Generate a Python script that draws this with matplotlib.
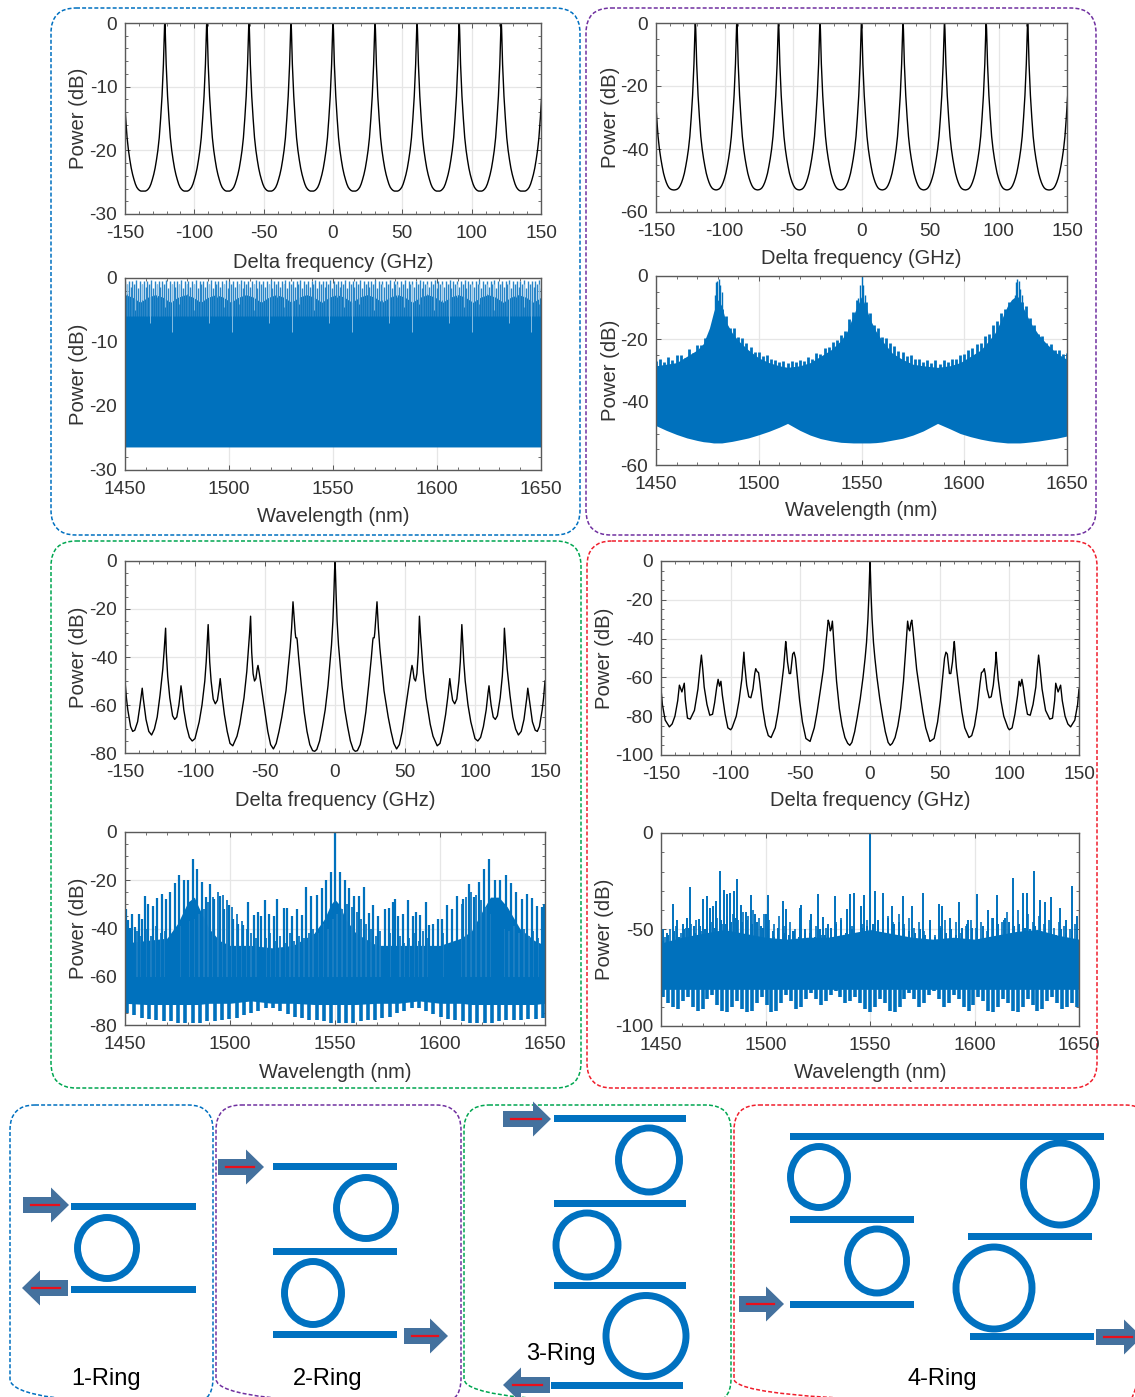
#-*- coding: utf-8 -*-
"""
Ring filter responses, 1 to 4 rings, with the ring schematics below
"""
import numpy as np
import matplotlib
matplotlib.use('Agg')
import matplotlib.pyplot as plt
from matplotlib.patches import FancyBboxPatch, Ellipse, Rectangle, Polygon
from matplotlib.ticker import MultipleLocator

plt.rcParams['font.family'] = ['Liberation Sans', 'DejaVu Sans']
plt.rcParams['axes.unicode_minus'] = False

BLUE = '#0071BD'
TEXT = '#333333'
W, H = 1135, 1397

# periodic responses, one side of a resonance, repeated at the read peaks
comb_peaks = [-152.5, -121.3, -91.0, -60.6, -30.3, 0, 30.3, 60.6, 91.0, 121.3, 152.5]
comb_offset = [0, 0.15, 0.3, 0.6, 1.0, 1.5, 2.0, 3.0, 4.0, 5.0, 6.0, 7.0, 8.0, 9.0, 10.0, 11.0, 12.0, 13.0, 14.0, 15.15]
ring1_level = [0, -0.3, -1, -3.5, -6.5, -9, -11.5, -15, -18, -20, -21.5, -22.8, -23.8, -24.6, -25.3, -25.8, -26.1, -26.3, -26.4, -26.4]
ring2_level = [0, -0.6, -2, -7, -13, -18, -23, -30, -36, -40, -43, -45.5, -47.7, -49.3, -50.6, -51.6, -52.3, -52.7, -52.9, -53]

# 3-ring and 4-ring, positive side, the response is mirrored around 0
ring3_f = [0, 0.3, 0.8, 1.5, 2.5, 3.4, 5, 7, 9, 11, 13, 14.5, 16, 18, 20, 22, 24, 26, 27, 27.3,
           28, 28.4, 29.4, 30, 31, 32, 33, 35, 38, 40, 42, 44, 46, 48, 50, 52, 54, 55, 55.6, 56.5,
           57.5, 58.5, 59.5, 60.3, 61, 62, 63, 65, 68, 70, 73, 75, 77, 79, 80.5, 82, 83, 84, 85.5, 87,
           88.5, 89.5, 90.6, 91.3, 92, 93, 95, 97, 100, 102, 104, 106, 108, 109.3, 110, 110.7, 111.5, 113, 114.5, 116,
           118, 119.5, 120.5, 121, 122, 123, 125, 127, 129, 131, 133, 135, 137, 137.7, 138.4, 139.5, 141, 143, 144.5, 146,
           148, 149, 150]
ring3_p = [0, -4, -14, -25, -35, -41, -52, -62, -69, -75, -78.5, -79.3, -79, -76.5, -71, -63, -52, -40, -33, -32,
           -32, -30, -22, -17, -28, -36, -42, -54, -65, -71, -76, -78.3, -76.5, -71, -63, -55, -47, -43.5, -45, -49,
           -50, -47, -38, -23, -30, -38, -46, -57, -68, -73, -77, -76, -71, -64, -57, -49, -54, -58, -59.5, -57.5,
           -50, -42, -26.5, -34, -42, -50, -60, -67, -74, -75, -73.5, -69, -62, -55, -52, -56, -60, -65, -66, -64.5,
           -57, -48, -38, -28, -37, -45, -56, -65, -70, -72.5, -71, -66, -57, -53, -56, -61, -67, -70.5, -71, -69,
           -62, -57, -50]

ring4_f = [0, 0.3, 0.8, 1.5, 2.5, 3.5, 5, 7, 9, 11, 13, 14.5, 16, 18, 20, 22, 24, 25.5, 26.5, 27,
           27.8, 28.5, 29.3, 30, 30.7, 32, 33.5, 35.5, 38, 40, 43, 46, 48.5, 50.5, 52, 53.5, 54.5, 55.5, 57, 58,
           59.2, 60, 60.5, 61, 62, 64, 66, 68, 71, 73, 75, 77, 79, 80, 81, 82, 82.7, 84, 85.5, 87,
           88.5, 90, 90.5, 91, 92, 94, 96, 99, 100, 102, 104, 106, 107, 108, 109, 110, 111.5, 113, 115, 117,
           119, 120, 121, 122, 123.5, 126, 129, 131, 132.5, 133.3, 135, 136.8, 138, 140, 142, 144, 147, 149, 150]
ring4_p = [0, -6, -18, -30, -42, -50, -60, -71, -80, -88, -93.5, -95, -94, -91, -85, -76, -62, -47, -36, -31,
           -35, -36, -32, -30.5, -35, -45, -56, -66, -78, -86, -93, -91.5, -83, -72, -61, -50, -47, -48, -58, -58,
           -52, -45, -41.5, -46, -55, -67, -78, -86, -91, -90, -85, -76, -63, -57.5, -57, -55.5, -58, -66, -70.5, -70,
           -64, -53, -47, -52, -61, -72, -80, -86, -87, -86, -79, -69, -62, -64.5, -61, -65, -73, -79, -79.5, -74,
           -65, -56, -48.5, -55, -66, -77, -81.5, -81, -72, -63, -67.5, -64, -72, -80, -84, -85.5, -82, -74, -66]

# 1-ring wavelength panel
a2_floor = -26.4
a2_scallop = [-2.6, -3.0, -3.8, -3.0]
a2_tops = [-0.5, -1.0, -0.4, -1.4, -0.5, -0.9, -0.3, -1.6] * 28
a2_notch = [-2.5, -5.0, -3.5, -7.0, -3.0, -4.5, -8.5, -4.0] * 7

# 2-ring wavelength panel
b2_wl = [1450, 1455, 1460, 1465, 1470, 1473, 1476, 1478, 1480, 1482, 1484, 1487, 1490, 1495, 1500, 1505, 1510, 1514,
         1520, 1525, 1530, 1535, 1540, 1543, 1546, 1548, 1550, 1552, 1554, 1557, 1560, 1565, 1570, 1575, 1580, 1587,
         1593, 1598, 1603, 1608, 1612, 1615, 1618, 1621, 1623, 1625, 1627, 1629, 1632, 1636, 1640, 1645, 1650]
b2_body = [-28.5, -28, -27.5, -25.5, -23.5, -21.5, -16.5, -11.5, -7.5, -9.5, -14.5, -18, -20.5, -23.5, -26, -27.5, -28.5, -29,
           -28.5, -27.5, -25.5, -23.5, -20.5, -17.5, -12.5, -9.5, -6.5, -9.5, -13.5, -17.5, -20.5, -24.5, -26.5, -28, -28.5, -29,
           -28.5, -27.5, -25.5, -23.5, -20.5, -18, -14, -9.5, -7.5, -6.5, -7.5, -10.5, -14.5, -18.5, -21.5, -24.5, -26.5]
b2_bottom = [-47.5, -49, -50.3, -51.4, -52.2, -52.6, -52.8, -53, -53, -53, -52.8, -52.5, -52.1, -51.4, -50.4, -49.3, -48, -46.8,
             -49, -50.5, -51.6, -52.3, -52.8, -52.9, -53, -53, -53, -53, -53, -52.9, -52.7, -52.1, -51.5, -50.5, -49.2, -46.8,
             -48.5, -50, -51, -51.8, -52.3, -52.6, -52.8, -53, -53, -53, -53, -52.9, -52.7, -52.4, -52, -51.5, -50.8]
b2_tops = [-27, -26.2, -27.4, -25.8, -26.8, -25.2, -25.2, -26, -23.2, -24.4, -21.8, -22, -19.6, -18.4, -14.6,
           -8, -10.4, -12.6, -16.4, -16.6, -19.4, -19.6, -21.4, -22.6, -24, -24.2, -25.4, -25.2, -26.4, -26.6, -27.4, -27.1, -27.6, -27.1, -27.4,
           -26.8, -27, -25.6, -26.2, -24.6, -24.9, -22.8, -22.4, -21.1, -20.4, -18.6, -17.4, -13.6, -11.4, -7.6, -7,
           -8.4, -11.6, -15.4, -16.6, -19.4, -19.6, -21.4, -22.2, -23.9, -24.1, -25.4, -25.2, -26.4, -26.2, -27.4, -26.8, -27.7, -26.8, -27.8,
           -26.7, -27.3, -26.2, -26.4, -25.1, -24.9, -23.6, -22.9, -21.6, -21.4, -19.1, -18.4, -15.6, -14.4, -11.6, -10.4, -8.1, -8.4, -6.6, -8.4,
           -9.6, -13.4, -15.6, -18.4, -19.1, -21.4, -21.6, -23.4, -23.6, -24.9, -24.6]
b2_peak_wl = [1478.5, 1479.2, 1479.8, 1480.5, 1481.2, 1482, 1548.5, 1549.3, 1550, 1550.7, 1551.5,
              1624.5, 1625.2, 1625.8, 1626.6, 1627.3, 1628]
b2_peak_p = [-6, -2, -1.5, -1, -3, -5, -7, -3, 0, -3, -6, -6, -2, -1, -1.5, -4, -6]

# 3-ring wavelength panel
c2_wl = [1450.6, 1451.4, 1452.4, 1453.4, 1454.8, 1456.8, 1458.2, 1459.5, 1460.9, 1463.2,
         1465.4, 1467.5, 1469.5, 1471.5, 1473.8, 1475.9, 1478.0, 1480.1, 1482.5, 1484.4,
         1486.7, 1488.7, 1490.7, 1492.6, 1495.3, 1497.3, 1499.5, 1501.6, 1504.0, 1506.3,
         1508.7, 1511.3, 1513.3, 1514.6, 1516.7, 1518.8, 1521.1, 1522.5, 1525.6, 1527.2,
         1529.7, 1531.7, 1534.4, 1536.3, 1538.7, 1541.2, 1543.6, 1545.8, 1548.1, 1550,
         1552.2, 1554.8, 1556.7, 1559.2, 1561.4, 1564, 1566, 1568.3, 1570.5, 1573.8,
         1575.9, 1577.5, 1578.6, 1579.8, 1582.4, 1584.8, 1587, 1588.4, 1590.6, 1593.2,
         1594.6, 1596.8, 1599, 1601.1, 1603.2, 1605.6, 1608.3, 1611.1, 1613.7, 1616,
         1618.4, 1621.1, 1623.5, 1626, 1628.4, 1631.3, 1633.7, 1636.3, 1638.9, 1641.3,
         1643.7, 1646.2, 1648.4, 1649.7]
c2_tops = [-32, -36.5, -39.7, -34, -39.5, -34, -36, -26.6, -29.7, -30.7,
           -27.4, -25.5, -27.6, -25, -21, -18, -20, -19.7, -11, -15.2,
           -20.7, -27, -21.4, -27.6, -26.6, -32, -30.3, -36, -38, -38.6,
           -29, -34.5, -33, -35, -28.3, -33.8, -35, -27.6, -31.7, -31.7,
           -34.9, -32, -34.5, -22.8, -26.6, -26.2, -23.4, -20, -16.5, 0,
           -16.5, -20, -23.4, -26.6, -26.6, -22.8, -33.4, -30.3, -35, -32,
           -31.7, -29, -27.6, -35, -33.8, -28.3, -35, -33, -34.5, -29,
           -38.6, -38, -36, -36, -30.3, -32, -26.6, -27.6, -21.4, -27,
           -20.7, -15.2, -11, -19.7, -20, -18, -21, -25, -27.6, -25.5,
           -27.4, -30.7, -31, -30]
c2_mid = [-42, -44, -41, -43, -40, -43, -39, -42, -41, -40, -41, -39, -38, -37, -36, -34, -32, -29, -27, -25,
          -26, -28, -31, -34, -37, -40, -42, -44, -41, -44, -42, -45, -43, -46, -42, -45, -43, -44, -42, -40,
          -42, -38, -40, -36, -34, -32, -30, -31, -33, -36, -38, -40, -43, -41, -44, -42, -45, -43, -46, -44,
          -42, -45, -41, -44, -43, -40, -42, -38, -36, -33, -30, -27, -25, -26, -28, -31, -34, -36, -38, -40,
          -41, -39, -42, -40, -43, -41, -44, -42]
c2_low = [-75, -76, -77, -77.5, -78, -78.5, -78.5, -79, -79, -79, -79, -78.5, -78.5, -78, -77.5, -77, -76, -75, -74, -73,
          -73, -74, -75.5, -76.5, -77, -78, -78, -78.5, -79, -79, -79, -79, -78.5, -78, -78, -77, -76.5, -75, -74, -73,
          -73, -74, -75.5, -76.5, -77.5, -78, -78.5, -79, -79, -79, -79, -78.5, -78, -78, -78, -77.5, -77.5, -77]
c2_body_wl = [1450, 1460, 1470, 1475, 1480, 1483, 1485, 1490, 1495, 1500, 1510, 1520, 1530, 1540, 1545, 1548, 1550,
              1552, 1555, 1560, 1570, 1580, 1590, 1600, 1610, 1615, 1620, 1624, 1628, 1632, 1638, 1645, 1650]
c2_body = [-46, -45, -44, -38, -29, -27, -31, -40, -45, -47, -47, -48, -47, -42, -36, -30, -28,
           -30, -36, -42, -47, -47, -47, -47, -44, -41, -33, -27, -27, -31, -40, -45, -47]
c2_floor = [-71, -71.5, -71.5, -71.5, -71.5, -71.5, -71.5, -71, -71, -71, -70, -71, -71, -71.5, -71.5, -71.5, -71.5,
            -71.5, -71.5, -71.5, -71, -71, -70, -71, -71, -71.5, -71.5, -71.5, -71.5, -71.5, -71.5, -71.5, -71]

# 4-ring wavelength panel
d2_wl = [1451.1, 1452.7, 1455.9, 1457.5, 1460.6, 1462.4, 1463.7, 1465.9, 1468.3, 1470.2,
         1471.9, 1473.3, 1475.1, 1476.3, 1478.4, 1480, 1481.7, 1483, 1484.8, 1486.5,
         1488.4, 1490.8, 1493.2, 1495.2, 1497.9, 1500.3, 1501.3, 1504.3, 1508.3, 1509.8,
         1513, 1516.3, 1517.1, 1521.7, 1524.9, 1527.3, 1529.7, 1533.3, 1536, 1538.9,
         1540.5, 1542.4, 1545.6, 1547.1, 1550, 1552.4, 1556.4, 1560.4, 1566, 1569.9,
         1575.2, 1578.7, 1583.2, 1584.3, 1588.3, 1592.6, 1597, 1601, 1606.6, 1610.9,
         1614.6, 1618.6, 1623, 1625, 1628.5, 1631.3, 1633.7, 1636.4, 1640.9, 1643.8,
         1646.8, 1648.9]
d2_tops = [-50, -52, -37, -45, -47, -44, -28, -48, -44.4, -34.4,
           -32.8, -38.7, -38, -35, -19.7, -29.4, -31.8, -31, -30.2, -23.7,
           -37.5, -41, -32, -41.8, -48, -41.8, -32, -54, -35.4, -39.2,
           -51, -38.7, -37.5, -41.8, -31.4, -43.5, -47, -32.8, -45, -39.2,
           -31.4, -30.9, -38, -32.3, 0, -30, -31, -38, -32.5, -38,
           -31, -45, -37, -38, -44, -35.5, -45, -31.5, -40, -32,
           -44, -23.4, -31, -31, -19.5, -34.6, -36, -33, -39, -45,
           -27.7, -43]
d2_mid = [-54, -50, -48, -52, -49, -47, -45, -51, -48, -46, -44, -47, -43, -42, -45, -41, -43, -40, -44, -42,
          -45, -47, -43, -48, -46, -50, -47, -52, -45, -48, -53, -49, -54, -46, -44, -50, -48, -52, -47, -45,
          -49, -46, -44, -43, -46, -42, -47, -44, -49, -46, -51, -47, -53, -48, -45, -50, -46, -52, -48, -45,
          -49, -46, -51, -44, -42, -46, -41, -43, -40, -44, -42, -46, -43, -47, -45, -49, -46, -48, -50, -47]
d2_mid2 = [-56, -53, -51, -54, -50, -49, -52, -48, -50, -47, -49, -45, -47, -46, -44, -46, -45, -47, -46, -49,
           -48, -51, -49, -52, -53, -51, -54, -50, -52, -54, -50, -53, -49, -47, -51, -52, -50, -53, -49, -48,
           -47, -45, -46, -44, -47, -46, -49, -51, -52, -50, -53, -51, -54, -49, -52, -50, -53, -49, -47, -49,
           -51, -48, -46, -44, -47, -45, -46, -48, -47, -49, -50, -48, -51, -49, -52, -53, -50, -52, -51, -53]
d2_low = [-85, -88, -90, -91, -87, -85, -90, -92, -91, -86, -84, -89, -92, -93, -90, -87, -91, -93, -92, -88,
          -85, -89, -93, -92, -88, -84, -87, -91, -90, -86, -83, -86, -89, -87, -84, -82, -85, -88, -87, -85,
          -88, -91, -93, -90, -86, -88, -92, -93, -90, -86, -83, -86, -90, -88, -84, -82, -86, -90, -88, -84,
          -86, -90, -92, -89, -85, -87, -92, -93, -90, -86, -88, -92, -93, -90, -86, -89, -92, -91, -87, -85,
          -88, -91, -90, -88, -90]
d2_body_wl = [1450, 1460, 1470, 1480, 1490, 1500, 1510, 1520, 1530, 1540, 1550, 1560, 1570, 1580, 1590, 1600, 1610,
              1620, 1630, 1640, 1650]
d2_body = [-57, -54, -52, -50, -52, -54, -55, -54, -54, -52, -50, -52, -54, -55, -54, -55, -53, -51, -50, -53, -55]
d2_floor = [-81] * 21

freq_ticks = [-150, -100, -50, 0, 50, 100, 150]
wl_ticks = [1450, 1500, 1550, 1600, 1650]

# layout, pixels of the image: left, right, top, bottom, ylabel x, xlabel y
panels = {
    'a1': (125, 541, 23, 214, 79, 262),
    'a2': (125, 541, 278, 470, 79, 516),
    'b1': (656, 1067, 23, 212, 611, 258),
    'b2': (656, 1067, 276, 465, 611, 510),
    'c1': (125, 545, 561, 753, 79, 800),
    'c2': (125, 545, 832, 1025, 79, 1072),
    'd1': (661, 1079, 561, 755, 604, 801),
    'd2': (661, 1079, 833, 1026, 604, 1073),
}

boxes = [(51, 8, 580, 535, '#0070C0'), (586, 8, 1096, 535, '#7030A0'),
         (51, 541, 581, 1088, '#00A651'), (587, 541, 1097, 1088, '#F01E2C'),
         (10, 1105, 213, 1404, '#0070C0'), (216, 1105, 461, 1404, '#7030A0'),
         (464, 1105, 731, 1404, '#00A651'), (734, 1105, 1150, 1404, '#F01E2C')]

# x0, x1, y
guides = [(71, 196, 1206), (71, 196, 1289),
          (273, 397, 1166), (273, 397, 1251), (273, 397, 1334),
          (554, 686, 1118), (554, 686, 1203), (554, 686, 1285), (551, 683, 1385),
          (790, 1104, 1136), (790, 914, 1219), (790, 914, 1304), (968, 1092, 1236), (970, 1094, 1336)]
# centre x, centre y, outer width, outer height
rings = [(107, 1248, 66, 68), (366, 1208, 66, 68), (313, 1293, 64, 70),
         (649, 1160, 68, 71), (587, 1245, 69, 71), (646, 1336, 87, 88),
         (819, 1177, 64, 68), (877, 1261, 66, 71), (1060, 1184, 80, 89), (994, 1288, 83, 89)]
# tail x, tip x, y
arrows = [(23, 69, 1205), (68, 22, 1288), (218, 264, 1167), (404, 448, 1336),
          (503, 551, 1119), (550, 503, 1385), (739, 784, 1304), (1096, 1142, 1337)]
ring_names = [('1-Ring', 106, 1379), ('2-Ring', 328, 1379), ('3-Ring', 561, 1354), ('4-Ring', 942, 1379)]


def comb_curve(peaks, offset, level):
    """
    Put the read resonance shape on every peak
    """
    off = np.array(offset)
    lev = np.array(level)
    x = np.concatenate([np.r_[p - off[::-1], p + off[1:]] for p in peaks])
    y = np.concatenate([np.r_[lev[::-1], lev[1:]] for p in peaks])
    return x, y


def mirrored(f, p):
    f = np.array(f)
    p = np.array(p)
    return np.r_[-f[::-1], f[1:]], np.r_[p[::-1], p[1:]]


def make_axes(fig, key, xlim, ylim, xticks, yticks, xminor, yminor, xlabel):
    left, right, top, bottom, ylab_x, xlab_y = panels[key]
    ax = fig.add_axes([left/W, 1 - bottom/H, (right - left)/W, (bottom - top)/H])
    ax.set_xlim(xlim)
    ax.set_ylim(ylim)
    ax.set_xticks(xticks)
    ax.set_yticks(yticks)
    ax.xaxis.set_minor_locator(MultipleLocator(xminor))
    ax.yaxis.set_minor_locator(MultipleLocator(yminor))
    ax.tick_params(which='major', direction='in', top=True, right=True, length=3.5, width=0.7,
                   color='#555555', labelcolor=TEXT, labelsize=13.8)
    ax.tick_params(axis='x', which='major', pad=8)
    ax.tick_params(axis='y', which='major', pad=5.5)
    ax.tick_params(which='minor', direction='in', top=True, right=True, length=2.2, width=0.6, color='#555555')
    ax.grid(True, which='major', color='#e6e6e6', lw=0.9)
    ax.set_axisbelow(True)
    for s in ax.spines.values():
        s.set_color('#5a5a5a')
        s.set_linewidth(1.0)
    ax.set_xlabel(xlabel, fontsize=14.5, color=TEXT, va='center')
    ax.set_ylabel('Power (dB)', fontsize=14.6, color=TEXT, va='center')
    ax.xaxis.set_label_coords(0.5, (bottom - xlab_y)/(bottom - top))
    ax.yaxis.set_label_coords((ylab_x - left)/(right - left), 0.5)
    return ax


def draw_arrow(bg, tail, tip, y):
    sign = 1 if tip > tail else -1
    neck = tip - sign*18
    pts = [(tail, y - 8), (neck, y - 8), (neck, y - 17.5), (tip, y), (neck, y + 17.5), (neck, y + 8), (tail, y + 8)]
    bg.add_patch(Polygon(pts, closed=True, fc='#44719E', ec='none', zorder=4))
    bg.plot([tail + sign*8, tip - sign*10], [y, y], color='#E8101C', lw=1.6, zorder=5)


def draw_background(fig):
    bg = fig.add_axes([0, 0, 1, 1], zorder=-1)
    bg.set_xlim(0, W)
    bg.set_ylim(H, 0)
    bg.axis('off')
    for x0, y0, x1, y1, col in boxes:
        bg.add_patch(FancyBboxPatch((x0 + 25, y0 + 25), x1 - x0 - 50, y1 - y0 - 50,
                                    boxstyle='round,pad=25,rounding_size=25', fc='none', ec=col,
                                    lw=1.1, ls=(0, (2.6, 1.4))))
    for x0, x1, y in guides:
        bg.add_patch(Rectangle((x0, y - 3.5), x1 - x0, 7, fc='#0071C0', ec='none'))
    for cx, cy, w, h in rings:
        bg.add_patch(Ellipse((cx, cy), w - 7, h - 7, fc='none', ec='#0071C0', lw=5))
    for tail, tip, y in arrows:
        draw_arrow(bg, tail, tip, y)
    for name, x, y in ring_names:
        bg.text(x, y, name, fontsize=17, color='black', ha='center', va='center')


def plot_all():
    fig = plt.figure(figsize=(W/100, H/100), dpi=100, facecolor='white')
    draw_background(fig)

    # delta frequency panels
    ax = make_axes(fig, 'a1', (-150, 150), (-30, 0), freq_ticks, [-30, -20, -10, 0], 10, 2, 'Delta frequency (GHz)')
    ax.plot(*comb_curve(comb_peaks, comb_offset, ring1_level), color='black', lw=1.0)
    ax = make_axes(fig, 'b1', (-150, 150), (-60, 0), freq_ticks, [-60, -40, -20, 0], 10, 5, 'Delta frequency (GHz)')
    ax.plot(*comb_curve(comb_peaks, comb_offset, ring2_level), color='black', lw=1.0)
    ax = make_axes(fig, 'c1', (-150, 150), (-80, 0), freq_ticks, [-80, -60, -40, -20, 0], 10, 5, 'Delta frequency (GHz)')
    ax.plot(*mirrored(ring3_f, ring3_p), color='black', lw=1.0)
    ax = make_axes(fig, 'd1', (-150, 150), (-100, 0), freq_ticks, [-100, -80, -60, -40, -20, 0], 10, 5, 'Delta frequency (GHz)')
    ax.plot(*mirrored(ring4_f, ring4_p), color='black', lw=1.0)

    # wavelength panels
    ax = make_axes(fig, 'a2', (1450, 1650), (-30, 0), wl_ticks, [-30, -20, -10, 0], 10, 2, 'Wavelength (nm)')
    scallop = a2_scallop*14
    ax.fill_between(np.linspace(1450, 1650, len(scallop)), a2_floor, scallop, color=BLUE, lw=0)
    ax.vlines(np.linspace(1450, 1650, len(a2_tops)), -6, a2_tops, color='#2a86c8', lw=1.0)
    ax.vlines(np.linspace(1451, 1649, len(a2_notch)), a2_notch, -1.0, color='#9cc9e7', lw=0.6)

    ax = make_axes(fig, 'b2', (1450, 1650), (-60, 0), wl_ticks, [-60, -40, -20, 0], 10, 5, 'Wavelength (nm)')
    ax.fill_between(b2_wl, b2_bottom, b2_body, color=BLUE, lw=0)
    ax.vlines(np.linspace(1450, 1650, len(b2_tops)), -40, b2_tops, color=BLUE, lw=2.0)
    ax.vlines(b2_peak_wl, -30, b2_peak_p, color=BLUE, lw=1.0)

    ax = make_axes(fig, 'c2', (1450, 1650), (-80, 0), wl_ticks, [-80, -60, -40, -20, 0], 10, 5, 'Wavelength (nm)')
    ax.fill_between(c2_body_wl, c2_floor, c2_body, color=BLUE, lw=0)
    ax.vlines(np.linspace(1451, 1649, len(c2_mid)), -60, c2_mid, color='#1f80c4', lw=1.4)
    ax.vlines(c2_wl, -60, c2_tops, color=BLUE, lw=1.6)
    ax.vlines(np.linspace(1451, 1649, len(c2_low)), c2_low, -65, color=BLUE, lw=2.6)

    ax = make_axes(fig, 'd2', (1450, 1650), (-100, 0), wl_ticks, [-100, -50, 0], 10, 10, 'Wavelength (nm)')
    ax.fill_between(d2_body_wl, d2_floor, d2_body, color=BLUE, lw=0)
    ax.vlines(np.linspace(1451, 1649, len(d2_mid2)), -70, d2_mid2, color=BLUE, lw=1.4)
    ax.vlines(np.linspace(1452, 1648, len(d2_mid)), -70, d2_mid, color=BLUE, lw=1.2)
    ax.vlines(d2_wl, -70, d2_tops, color=BLUE, lw=1.4)
    ax.vlines(np.linspace(1451, 1649, len(d2_low)), d2_low, -75, color=BLUE, lw=2.6)

    fig.savefig('out.png', dpi=100)


plot_all()
